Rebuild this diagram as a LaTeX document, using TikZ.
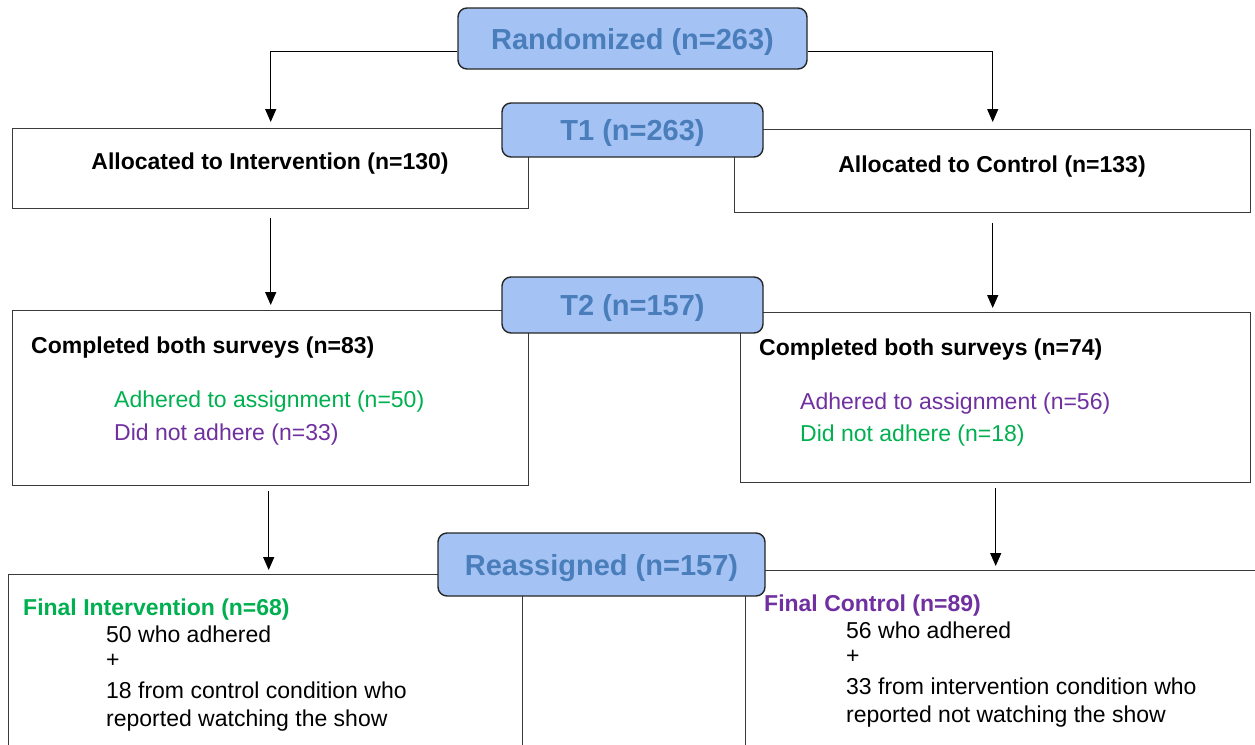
\documentclass[tikz,border=0pt]{standalone}
\usepackage{fontspec}
\setmainfont{Liberation Sans}
\usetikzlibrary{arrows.meta}
\definecolor{tfill}{HTML}{A4C2F4}
\definecolor{ttext}{HTML}{4A7EBB}
\definecolor{mygreen}{HTML}{00B050}
\definecolor{mypurple}{HTML}{7030A0}
\definecolor{boxline}{HTML}{3A3A3A}
\begin{document}
\begin{tikzpicture}[x=1pt,y=-1pt,
  box/.style={draw=boxline,line width=1.4pt,fill=white,inner sep=0pt,anchor=north west},
  title/.style={draw=black!85,line width=1.4pt,fill=tfill,rounded corners=9pt,text=ttext,
    font=\fontsize{29}{33}\selectfont\bfseries,inner sep=0pt,text depth=0pt},
  lbl/.style={anchor=base west,inner sep=0pt,font=\fontsize{23}{27}\selectfont},
  blbl/.style={anchor=base west,inner sep=0pt,font=\fontsize{23}{27}\selectfont\bfseries},
  arr/.style={line width=1.3pt,-{Triangle[length=13pt,width=11pt]}}]
\clip (0,0) rectangle (1255,744);
% boxes
\node[box,minimum width=516pt,minimum height=80pt] (allocI) at (12,128) {};
\node[box,minimum width=516pt,minimum height=83pt] (allocC) at (734,129) {};
\node[box,minimum width=516pt,minimum height=175pt] (compI) at (12,310) {};
\node[box,minimum width=510pt,minimum height=170pt] (compC) at (740,312) {};
\node[box,minimum width=514pt,minimum height=220pt] (finalI) at (8,574) {};
\node[box,minimum width=560pt,minimum height=220pt] (finalC) at (745,570) {};
% title boxes
\node[title,minimum width=349pt,minimum height=61pt] (rand) at (632.5,38.5) {Randomized (n=263)};
\node[title,minimum width=261pt,minimum height=54pt] (t1) at (632.5,130) {T1 (n=263)};
\node[title,minimum width=261pt,minimum height=56pt] (t2) at (632.5,305) {T2 (n=157)};
\node[title,minimum width=327pt,minimum height=63pt] (reas) at (601.5,564.5) {Reassigned (n=157)};
% connectors
\draw[arr] ([yshift=-13pt]rand.west) -| ([yshift=6pt]allocI.north);
\draw[arr] ([yshift=-13pt]rand.east) -| ([yshift=7pt]allocC.north);
\draw[arr] ([yshift=-9pt]allocI.south) -- ([yshift=5pt]compI.north);
\draw[arr] ([yshift=-10pt]allocC.south) -- ([yshift=4pt]allocC.south |- compC.north);
\draw[arr] ([yshift=-5pt,xshift=-2pt]compI.south) -- ([yshift=4pt,xshift=-2pt]compI.south |- finalI.north);
\draw[arr] ([yshift=-5pt]compC.south) -- ([yshift=4pt]compC.south |- finalC.north);
% texts
\node[blbl,anchor=base] (tai) at (270,169) {Allocated to Intervention (n=130)};
\node[blbl,anchor=base] (tac) at (992,172) {Allocated to Control (n=133)};
\node[blbl] (tci) at (31,353) {Completed both surveys (n=83)};
\node[lbl,text=mygreen] (tci1) at (114,407) {Adhered to assignment (n=50)};
\node[lbl,text=mypurple] (tci2) at (114,440) {Did not adhere (n=33)};
\node[blbl] (tcc) at (759,355) {Completed both surveys (n=74)};
\node[lbl,text=mypurple] (tcc1) at (800,409) {Adhered to assignment (n=56)};
\node[lbl,text=mygreen] (tcc2) at (800,441) {Did not adhere (n=18)};
\node[blbl,text=mygreen] (tfi) at (23,615) {Final Intervention (n=68)};
\node[lbl] (tfi1) at (106,642) {50 who adhered};
\node[lbl] (tfi2) at (106,667) {+};
\node[lbl] (tfi3) at (106,698) {18 from control condition who};
\node[lbl] (tfi4) at (106,726) {reported watching the show};
\node[blbl,text=mypurple] (tfc) at (764,611) {Final Control (n=89)};
\node[lbl] (tfc1) at (846,638) {56 who adhered};
\node[lbl] (tfc2) at (846,663) {+};
\node[lbl] (tfc3) at (846,694) {33 from intervention condition who};
\node[lbl] (tfc4) at (846,722) {reported not watching the show};
\end{tikzpicture}
\end{document}
